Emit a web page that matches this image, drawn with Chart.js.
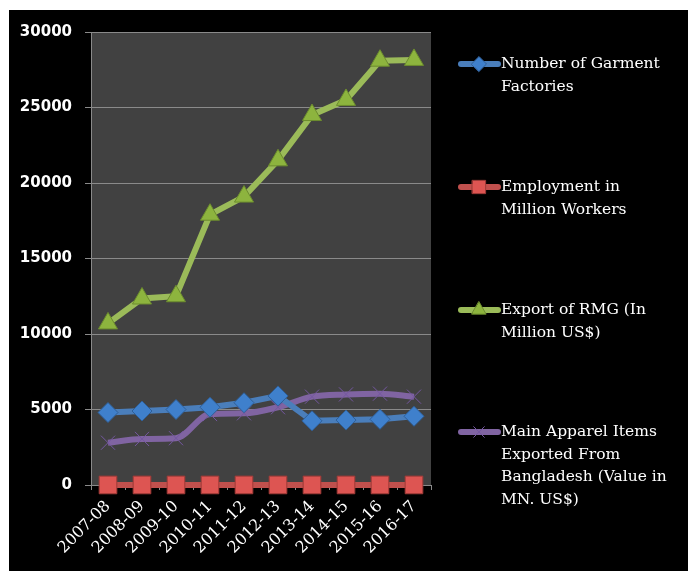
<!DOCTYPE html>
<html>
<head>
<meta charset="utf-8">
<script src="https://cdn.jsdelivr.net/npm/chart.js@4.4.0/dist/chart.umd.min.js"></script>
<style>
    html, body { margin: 0; padding: 0; background: #fff; }
    #wrap { position: absolute; left: 9px; top: 10px; width: 679px; height: 561px; background: #000; }
</style>
</head>
<body>
<div id="wrap"><canvas id="chart" width="679" height="561"></canvas></div>
<script>
const years = ['2007-08', '2008-09', '2009-10', '2010-11', '2011-12', '2012-13', '2013-14', '2014-15', '2015-16', '2016-17'];
const factories = [4800, 4900, 5000, 5150, 5450, 5900, 4250, 4300, 4350, 4550];
const employment = [2.8, 3.5, 3.6, 4.0, 4.0, 4.0, 4.0, 4.0, 4.0, 4.0];
const rmgExport = [10700, 12350, 12500, 17900, 19100, 21500, 24500, 25500, 28100, 28150];
const apparelItems = [2800, 3050, 3100, 4700, 4750, 5150, 5850, 6000, 6050, 5850];

const legendLines = [
    ['Number of Garment', 'Factories'],
    ['Employment in', 'Million Workers'],
    ['Export of RMG (In', 'Million US$)'],
    ['Main Apparel Items', 'Exported From', 'Bangladesh (Value in', 'MN. US$)']
];
const legendY = [54, 177, 300, 422];

const plotBg = {
    id: 'plotBg',
    beforeDraw(chart) {
        const a = chart.chartArea;
        const ctx = chart.ctx;
        ctx.save();
        ctx.fillStyle = '#414141';
        ctx.fillRect(a.left, a.top, a.right - a.left, a.bottom - a.top);
        ctx.restore();
    }
};

const sideLegend = {
    id: 'sideLegend',
    afterDraw(chart) {
        const ctx = chart.ctx;
        ctx.save();
        chart.data.datasets.forEach((ds, i) => {
            const y = legendY[i];
            ctx.strokeStyle = ds.borderColor;
            ctx.lineWidth = 6;
            ctx.lineCap = 'round';
            ctx.beginPath();
            ctx.moveTo(452, y);
            ctx.lineTo(489, y);
            ctx.stroke();
            ctx.fillStyle = ds.pointBackgroundColor;
            ctx.strokeStyle = ds.pointBorderColor;
            ctx.lineWidth = 1;
            Chart.helpers.drawPoint(ctx, {
                pointStyle: ds.pointStyle,
                radius: ds.pointRadius * 0.75,
                borderWidth: 1,
                rotation: 0
            }, 470, y);
            ctx.fillStyle = '#ffffff';
            ctx.font = '15.5px "DejaVu Serif"';
            ctx.textBaseline = 'middle';
            ctx.textAlign = 'left';
            legendLines[i].forEach((t, k) => {
                ctx.fillText(t, 492, y + k * 22.5);
            });
        });
        ctx.restore();
    }
};

new Chart(document.getElementById('chart'), {
    type: 'line',
    data: {
        labels: years,
        datasets: [
            {
                label: 'Number of Garment Factories',
                data: factories,
                borderColor: '#4A7EBB',
                borderWidth: 6,
                pointStyle: 'rectRot',
                pointRadius: 10,
                pointBackgroundColor: '#3F80CC',
                pointBorderColor: '#2F5F98',
                pointBorderWidth: 1,
                tension: 0,
                clip: false
            },
            {
                label: 'Employment in Million Workers',
                data: employment,
                borderColor: '#C0504D',
                borderWidth: 6,
                pointStyle: 'rect',
                pointRadius: 12.5,
                pointBackgroundColor: '#DD5552',
                pointBorderColor: '#9E3A37',
                pointBorderWidth: 1,
                tension: 0,
                clip: false
            },
            {
                label: 'Export of RMG (In Million US$)',
                data: rmgExport,
                borderColor: '#9BBB59',
                borderWidth: 6,
                pointStyle: 'triangle',
                pointRadius: 11,
                pointBackgroundColor: '#8DB43E',
                pointBorderColor: '#6C8C2E',
                pointBorderWidth: 1,
                tension: 0,
                clip: false
            },
            {
                label: 'Main Apparel Items Exported From Bangladesh (Value in MN. US$)',
                data: apparelItems,
                borderColor: '#8064A2',
                borderWidth: 6,
                pointStyle: 'crossRot',
                pointRadius: 10,
                pointBackgroundColor: '#7B5FA0',
                pointBorderColor: '#7457A0',
                pointBorderWidth: 1,
                cubicInterpolationMode: 'monotone',
                clip: false
            }
        ]
    },
    options: {
        responsive: false,
        animation: false,
        layout: { padding: { top: 21, right: 257, left: 0, bottom: 0 } },
        plugins: {
            legend: { display: false },
            tooltip: { enabled: false }
        },
        scales: {
            x: {
                offset: true,
                grid: { offset: true, drawOnChartArea: false, color: '#8a8a8a', tickLength: 5 },
                border: { color: '#8a8a8a' },
                ticks: {
                    color: '#ffffff',
                    font: { family: 'DejaVu Serif', size: 16 },
                    maxRotation: 45,
                    minRotation: 45,
                    padding: 7
                },
                afterFit(scale) { scale.height = 86; }
            },
            y: {
                min: 0,
                max: 30000,
                ticks: {
                    stepSize: 5000,
                    color: '#ffffff',
                    font: { family: 'DejaVu Sans', size: 15, weight: 'bold' },
                    padding: 13,
                    callback: (v) => String(v)
                },
                grid: { color: '#8a8a8a', tickLength: 6 },
                border: { color: '#8a8a8a' },
                afterFit(scale) { scale.width = 82; }
            }
        }
    },
    plugins: [plotBg, sideLegend]
});
</script>
</body>
</html>
